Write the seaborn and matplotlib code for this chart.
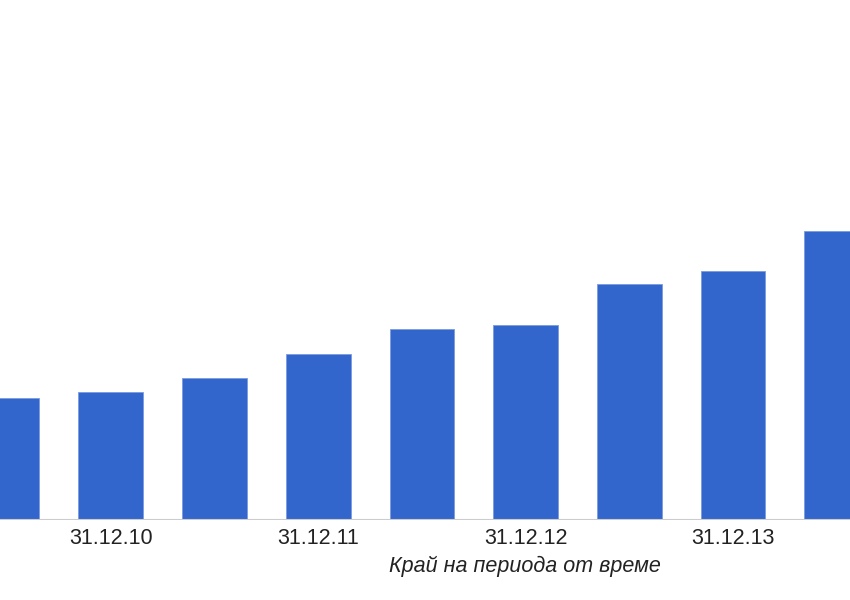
import matplotlib
matplotlib.use("Agg")
import matplotlib.pyplot as plt
import seaborn as sns
import pandas as pd

periods = ["30.06.10", "31.12.10", "30.06.11", "31.12.11", "30.06.12",
           "31.12.12", "30.06.13", "31.12.13", "30.06.14"]
values = [122, 128, 142, 166, 191, 195, 236, 249, 289]
shown_labels = ["31.12.10", "31.12.11", "31.12.12", "31.12.13"]
x_title = "Край на периода от време"

sns.set_theme(style="white")
plt.rcParams['font.family'] = ['Liberation Sans', 'DejaVu Sans']

df = pd.DataFrame({"period": periods, "value": values})

fig = plt.figure(figsize=(8.5, 6), dpi=100)
ax = fig.add_axes([0, 80 / 600, 1, 520 / 600])
sns.barplot(data=df, x="period", y="value", order=periods, color="#3366cc",
            width=0.624, saturation=1, edgecolor="#7a9be0", linewidth=0.6, ax=ax)

ax.set_xlim(-7.1 / 103.7, 842.9 / 103.7)
ax.set_ylim(0, 520)
ax.axhline(0, color="#cccccc", linewidth=1.5, zorder=5)
for s in ax.spines.values():
    s.set_visible(False)
ax.set_yticks([])
ticks = [periods.index(l) for l in shown_labels]
ax.set_xticks(ticks)
ax.set_xticklabels(shown_labels, fontsize=15.5, color="#222222")
ax.tick_params(axis="x", length=0, pad=6)
ax.set_xlabel("")
ax.set_ylabel("")
fig.text(525 / 850, 1 - 566 / 600, x_title, ha="center", va="center",
         fontsize=15.5, style="italic", color="#222222")

fig.savefig("out.png", dpi=100)
